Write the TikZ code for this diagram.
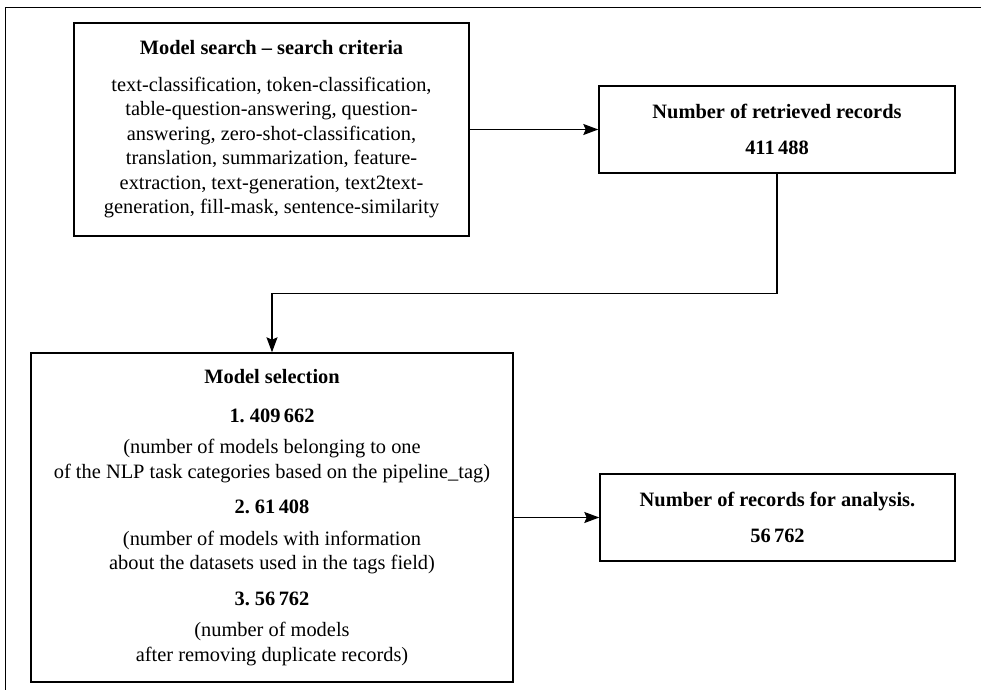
\documentclass[tikz,border=0pt]{standalone}
\usepackage{fontspec}
\setmainfont{Liberation Serif}
\usepackage{tikz}
\usetikzlibrary{shapes,arrows.meta}
\frenchspacing

\begin{document}
\begin{tikzpicture}[x=0.5pt,y=0.5pt,yscale=-1,xscale=1,
  procbox/.style={draw,line width=0.7pt,align=center,inner sep=0pt,font=\fontsize{10.2}{12.25}\selectfont},
  flowarr/.style={line width=0.7pt,-{Stealth[length=7.5pt,width=5.5pt,inset=1.2pt]}}]
\useasboundingbox (0,0) rectangle (981,690);
%Straight Lines
\draw [line width=0.7pt]  (981,7.5) -- (5.5,7.5) -- (5.5,690) ;

%Flowchart: Process
\node [procbox,minimum width=197.5pt,minimum height=106.5pt] (search) at (271.5,129.5)
  {\textbf{Model search -- search criteria}\\[6pt]
   text-classification, token-classification,\\
   table-question-answering, question-\\
   answering, zero-shot-classification,\\
   translation, summarization, feature-\\
   extraction, text-generation, text2text-\\
   generation, fill-mask, sentence-similarity};
%Flowchart: Process
\node [procbox,minimum width=178pt,minimum height=43.5pt] (retrieved) at (777,129.5)
  {\textbf{Number of retrieved records}\\[6pt]
   \textbf{411\,488}};
%Flowchart: Process
\node [procbox,minimum width=241pt,minimum height=164.5pt] (selection) at (272,517.5)
  {\textbf{Model selection}\\[7pt]
   \textbf{1. 409\,662}\\[3.5pt]
   (number of models belonging to one\\
   of the NLP task categories based on the pipeline\_tag)\\[5.5pt]
   \textbf{2. 61\,408}\\[3.5pt]
   (number of models with information\\
   about the datasets used in the tags field)\\[5.5pt]
   \textbf{3. 56\,762}\\[3.5pt]
   (number of models\\
   after removing duplicate records)};
%Flowchart: Process
\node [procbox,minimum width=177.5pt,minimum height=43.5pt] (analysis) at (777.5,517.5)
  {\textbf{Number of records for analysis.}\\[6pt]
   \textbf{56\,762}};

%Straight Lines
\draw [flowarr]  (search.east) -- (retrieved.west) ;
%Straight Lines
\draw [flowarr]  (retrieved.south) -- ++(0,120) -| (selection.north) ;
%Straight Lines
\draw [flowarr]  (selection.east) -- (analysis.west) ;

\end{tikzpicture}
\end{document}
